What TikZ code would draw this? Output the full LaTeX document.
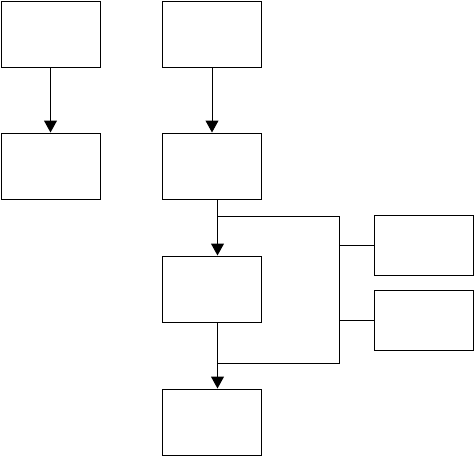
\documentclass[tikz,border=0pt]{standalone}
\usetikzlibrary{positioning,arrows.meta}

\begin{document}
\begin{tikzpicture}[x=1pt,y=-1pt,
  box/.style={draw,rectangle,line width=1pt,inner sep=0pt,minimum width=99pt,minimum height=66pt},
  sidebox/.style={box,minimum height=60pt},
  link/.style={line width=1pt},
  flow/.style={link,-{Triangle[length=12pt,width=13pt]}}]
    \useasboundingbox (0,0) rectangle (474,456);
    % left column
    \node[box] (a1) at (50.5,34) {};
    \node[box] (a2) at (50.5,166) {};
    % main column
    \node[box] (m1) at (212,34) {};
    \node[box] (m2) at (212,166) {};
    \node[box] (m3) at (212,289) {};
    \node[box] (m4) at (212,422) {};
    % side boxes
    \node[sidebox] (s1) at (423.5,245) {};
    \node[sidebox] (s2) at (423.5,320) {};
    % junctions
    \coordinate (j1) at (217.5,216);
    \coordinate (j2) at (339,216);
    \coordinate (j3) at (339,363);
    \coordinate (j4) at (217.5,363);
    \draw[flow] (a1) -- (a2);
    \draw[flow] (m1) -- (m2);
    \draw[flow] ([xshift=5.5pt]m2.south) -- ([xshift=5.5pt]m3.north);
    \draw[flow] ([xshift=5.5pt]m3.south) -- ([xshift=5.5pt]m4.north);
    \draw[link] (j1) -- (j2) -- (j3) -- (j4);
    \draw[link] (s1.west) -- (s1.west -| j2);
    \draw[link] (s2.west) -- (s2.west -| j2);
\end{tikzpicture}
\end{document}
